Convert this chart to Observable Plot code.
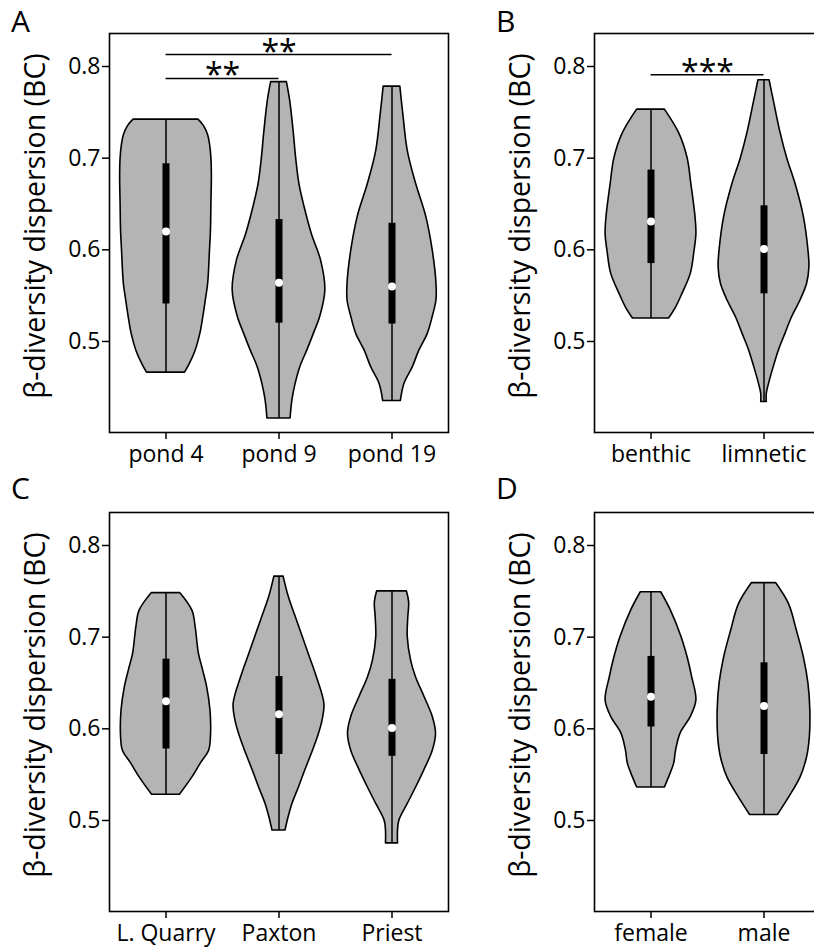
<!DOCTYPE html>
<html><head><meta charset="utf-8">
<script src="https://cdn.jsdelivr.net/npm/d3@7"></script>
<script src="https://cdn.jsdelivr.net/npm/@observablehq/plot@0.6"></script>
<style>
html,body{margin:0;padding:0;overflow:hidden;background:#fff;width:814px;height:948px}
#wrap{position:relative;width:814px;height:948px;overflow:hidden}
.panel{position:absolute}
.letter{position:absolute;font-family:"Open Sans",sans-serif;font-size:30px;line-height:1;color:#000}
</style></head><body><div id="wrap"></div>
<script>
// ---- categories ----
const pondCats = ["pond 4", "pond 9", "pond 19"];
const ecoCats = ["benthic", "limnetic"];
const lakeCats = ["L. Quarry", "Paxton", "Priest"];
const sexCats = ["female", "male"];

const yTitle = "β-diversity dispersion (BC)";
const yTicks = [0.5, 0.6, 0.7, 0.8];

// ---- violin profiles: [value, relative density] from top to bottom ----
const pond4 = [[0.742,0.70],[0.735,0.82],[0.725,0.91],[0.715,0.95],[0.70,0.98],[0.68,0.99],[0.65,0.98],[0.62,0.97],[0.60,0.95],[0.563,0.91],[0.545,0.86],[0.525,0.80],[0.508,0.74],[0.49,0.64],[0.475,0.51],[0.466,0.41]];
const pond9 = [[0.783,0.17],[0.763,0.24],[0.727,0.32],[0.70,0.37],[0.672,0.44],[0.647,0.55],[0.617,0.71],[0.588,0.91],[0.556,1.0],[0.527,0.89],[0.508,0.75],[0.49,0.61],[0.472,0.46],[0.454,0.36],[0.436,0.29],[0.416,0.25]];
const pond19 = [[0.778,0.18],[0.745,0.25],[0.708,0.34],[0.672,0.52],[0.636,0.74],[0.599,0.88],[0.563,0.96],[0.545,0.96],[0.527,0.88],[0.508,0.77],[0.49,0.59],[0.472,0.45],[0.454,0.27],[0.435,0.19]];
const benthic = [[0.753,0.30],[0.727,0.61],[0.70,0.79],[0.672,0.87],[0.636,0.96],[0.617,0.98],[0.599,0.94],[0.574,0.86],[0.552,0.68],[0.537,0.54],[0.525,0.39]];
const limnetic = [[0.785,0.12],[0.763,0.21],[0.727,0.36],[0.70,0.50],[0.672,0.68],[0.636,0.86],[0.599,0.96],[0.581,0.98],[0.563,0.93],[0.545,0.79],[0.527,0.61],[0.508,0.46],[0.49,0.32],[0.472,0.21],[0.454,0.11],[0.443,0.06],[0.434,0.06]];
const lquarry = [[0.748,0.31],[0.729,0.57],[0.711,0.64],[0.682,0.71],[0.664,0.80],[0.645,0.89],[0.62,0.96],[0.591,0.97],[0.576,0.93],[0.562,0.75],[0.547,0.57],[0.528,0.30]];
const paxton = [[0.766,0.10],[0.744,0.21],[0.718,0.39],[0.682,0.64],[0.656,0.82],[0.627,0.98],[0.609,0.94],[0.591,0.84],[0.573,0.71],[0.555,0.57],[0.536,0.43],[0.518,0.29],[0.504,0.21],[0.489,0.14]];
const priest = [[0.750,0.32],[0.738,0.37],[0.72,0.35],[0.70,0.34],[0.675,0.41],[0.656,0.52],[0.635,0.70],[0.613,0.88],[0.595,0.95],[0.576,0.88],[0.555,0.70],[0.536,0.52],[0.518,0.34],[0.50,0.16],[0.489,0.13],[0.475,0.13]];
const female = [[0.749,0.22],[0.729,0.43],[0.70,0.66],[0.678,0.79],[0.656,0.89],[0.631,0.98],[0.613,0.86],[0.595,0.64],[0.576,0.54],[0.562,0.50],[0.547,0.39],[0.536,0.30]];
const male = [[0.759,0.26],[0.736,0.54],[0.707,0.71],[0.678,0.86],[0.649,0.96],[0.62,1.0],[0.591,0.99],[0.569,0.93],[0.547,0.79],[0.525,0.54],[0.506,0.30]];

// ---- box stats: [q1, median, q3] ----
const pondStats = [[0.541,0.620,0.694],[0.520,0.564,0.633],[0.519,0.560,0.629]];
const ecoStats = [[0.585,0.631,0.687],[0.552,0.601,0.648]];
const lakeStats = [[0.578,0.630,0.676],[0.572,0.616,0.657],[0.570,0.601,0.654]];
const sexStats = [[0.602,0.635,0.679],[0.572,0.625,0.672]];

// ---- significance annotations ----
const pondSig = [
  {a: "pond 4", b: "pond 19", y: 0.813, label: "**"},
  {a: "pond 4", b: "pond 9", y: 0.787, label: "**"}
];
const ecoSig = [{a: "benthic", b: "limnetic", y: 0.791, label: "***"}];

const FONT = "'Open Sans', sans-serif";

function makePanel(cats, profiles, stats, sigs) {
  const n = cats.length;
  const rows = [];
  profiles.forEach((prof, i) => prof.forEach(([v, d]) => rows.push({i, v, d})));
  const boxes = stats.map((s, i) => ({
    i, q1: s[0], med: s[1], q3: s[2],
    min: profiles[i][profiles[i].length - 1][0], max: profiles[i][0][0]
  }));
  const W = 0.41;
  const marks = [
    Plot.areaX(rows, {y: "v", x1: d => d.i - d.d * W, x2: d => d.i + d.d * W, z: "i",
      fill: "#b4b4b4", stroke: "#000", strokeWidth: 1.6, curve: "catmull-rom"}),
    Plot.ruleX(boxes, {x: "i", y1: "min", y2: "max", stroke: "#000", strokeWidth: 1.5}),
    Plot.ruleX(boxes, {x: "i", y1: "q1", y2: "q3", stroke: "#000", strokeWidth: 7}),
    Plot.dot(boxes, {x: "i", y: "med", r: 4, fill: "#fff", stroke: null}),
    Plot.axisY({ticks: yTicks, tickFormat: d3.format(".1f"), tickSize: 7, tickPadding: 2, label: null, fontSize: 23, strokeWidth: 1.5}),
    Plot.axisX({ticks: d3.range(n), tickFormat: i => cats[i], tickSize: 7, tickPadding: 6, label: null, fontSize: 23, strokeWidth: 1.5}),
    Plot.frame({stroke: "#000", strokeWidth: 1.6}),
    Plot.text([yTitle], {frameAnchor: "left", textAnchor: "middle", lineAnchor: "middle", dx: -74, dy: -7, rotate: -90, fontSize: 28.5})
  ];
  if (sigs) {
    marks.push(
      Plot.ruleY(sigs, {y: "y", x1: d => cats.indexOf(d.a), x2: d => cats.indexOf(d.b), stroke: "#000", strokeWidth: 1.5}),
      Plot.text(sigs, {x: d => (cats.indexOf(d.a) + cats.indexOf(d.b)) / 2, y: "y", text: "label", lineAnchor: "bottom", dy: 8, fontSize: 32})
    );
  }
  return Plot.plot({
    width: 109 + n * 113 + 2, height: 475,
    marginLeft: 109, marginRight: 2, marginTop: 33, marginBottom: 43,
    style: {fontFamily: FONT, fontSize: "23px", color: "#000", background: "transparent", overflow: "visible"},
    x: {domain: [-0.5, n - 0.5]},
    y: {domain: [0.4007, 0.836]},
    marks
  });
}

const wrap = document.getElementById("wrap");
function place(el, left, top) {
  el.classList.add("panel");
  el.style.left = left + "px";
  el.style.top = top + "px";
  wrap.appendChild(el);
}
function letter(t, left, baseline) {
  const d = document.createElement("div");
  d.className = "letter";
  d.textContent = t;
  d.style.left = left + "px";
  d.style.top = (baseline - 0.888 * 30) + "px";
  wrap.appendChild(d);
}

place(makePanel(pondCats, [pond4, pond9, pond19], pondStats, pondSig), 0, 0);
place(makePanel(ecoCats, [benthic, limnetic], ecoStats, ecoSig), 485, 0);
place(makePanel(lakeCats, [lquarry, paxton, priest], lakeStats, null), 0, 479);
place(makePanel(sexCats, [female, male], sexStats, null), 485, 479);
letter("A", 11, 32.5);
letter("B", 496, 32.5);
letter("C", 11, 500);
letter("D", 496, 500);
</script></body></html>
